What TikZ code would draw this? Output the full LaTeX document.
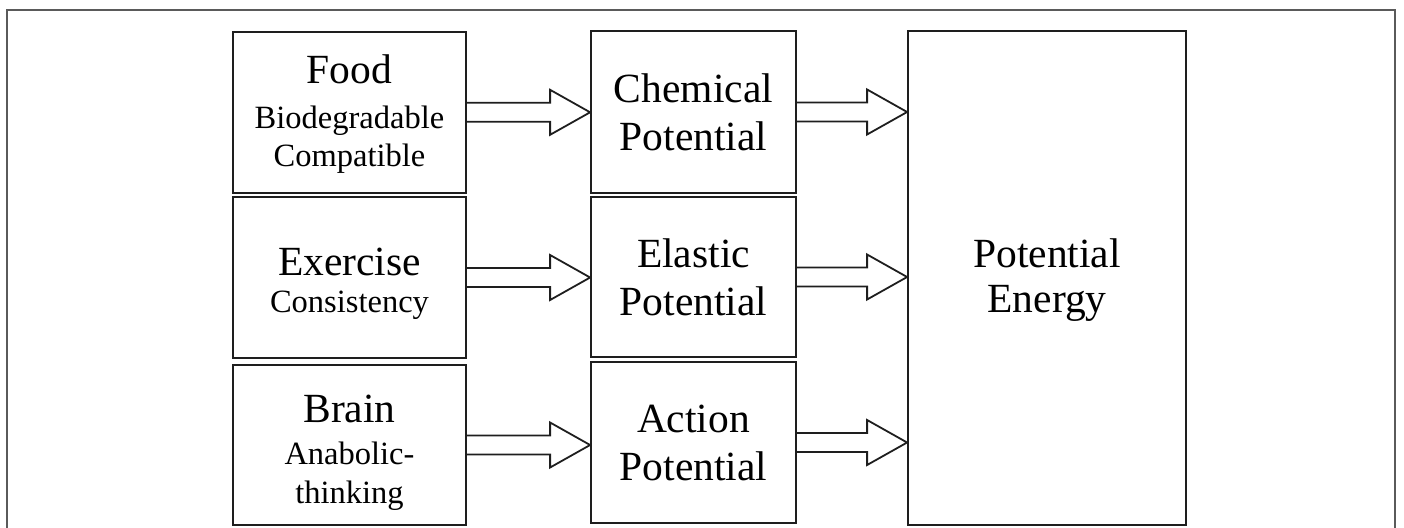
\documentclass[tikz,border=0pt]{standalone}
\usepackage{fontspec}
\setmainfont{Liberation Serif}
\usetikzlibrary{calc}
\definecolor{linecol}{HTML}{1E1E1E}
\definecolor{framecol}{HTML}{5A5A5A}
\newcommand\bigtxt{\fontsize{41.5}{45}\selectfont}
\newcommand\smalltxt{\fontsize{32.5}{45}\selectfont}
\newcommand\lift[1]{\rule{0pt}{#1pt}}
\begin{document}
\begin{tikzpicture}[x=1pt,y=-1pt,
  box/.style 2 args={draw=linecol, line width=1.8pt, minimum width=#1pt, minimum height=#2pt, inner sep=0pt, align=center, font=\bigtxt},
  blockarrow/.style={draw=linecol, line width=1.8pt, line join=miter,
    to path={let \p1=(\tikztostart), \p2=(\tikztotarget) in
      (\x1,\y1+9.5pt) -- (\x2-40pt,\y1+9.5pt) -- (\x2-40pt,\y1+22.5pt) -- (\x2,\y1)
      -- (\x2-40pt,\y1-22.5pt) -- (\x2-40pt,\y1-9.5pt) -- (\x1,\y1-9.5pt)}}]
\useasboundingbox (0,0) rectangle (1404,527);
\draw[framecol, line width=1.5pt] (7,535) -- (7,10) -- (1395,10) -- (1395,535);

\node[box={233}{161}] (food) at (349.5,112.3) {\lift{33}Food\\[0pt]\smalltxt Biodegradable\\[-7pt]\smalltxt Compatible};
\node[box={233}{161}] (exer) at (349.5,277.5) {\lift{40.5}Exercise\\[-8pt]\smalltxt Consistency};
\node[box={233}{160}] (brain) at (349.5,445) {\lift{44}Brain\\[-3pt]\smalltxt Anabolic-\\[-6pt]\smalltxt thinking};

\node[box={205}{162}] (chem) at (693.5,112) {Chemical\\[3pt]Potential};
\node[box={205}{160}] (elas) at (693.5,277) {Elastic\\[3pt]Potential};
\node[box={205}{161}] (act) at (693.5,442.5) {Action\\[3pt]Potential};

\node[box={278}{494}] (pe) at (1047,278) {\lift{33.5}Potential\\[0pt]Energy};

\draw[blockarrow] (food.east) to (chem.west);
\draw[blockarrow] (exer.east) to (elas.west);
\draw[blockarrow] (brain.east) to (act.west);
\draw[blockarrow] (chem.east) to (pe.west);
\draw[blockarrow] (elas.east) to (pe.west);
\draw[blockarrow] (act.east) to (pe.west);
\end{tikzpicture}
\end{document}
